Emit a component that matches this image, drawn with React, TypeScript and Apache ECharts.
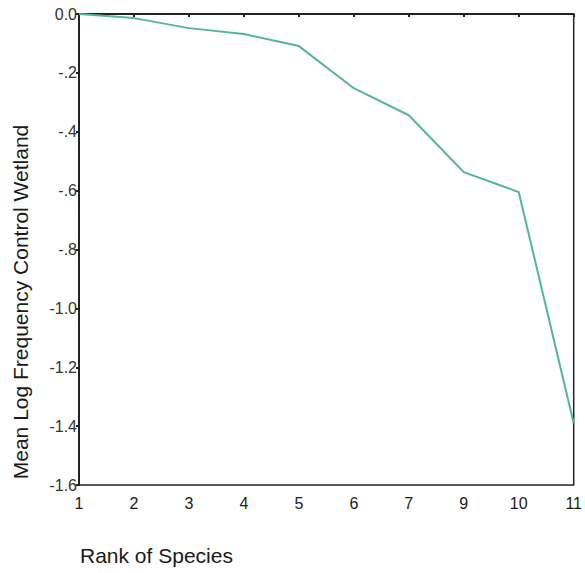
import React, { useEffect, useRef } from "react";
import * as echarts from "echarts";

const ranks = ["1", "2", "3", "4", "5", "6", "7", "9", "10", "11"];
const meanLogFreq = [0.0, -0.014, -0.048, -0.068, -0.109, -0.252, -0.344, -0.537, -0.605, -1.39];
const yTitle = "Mean Log Frequency Control Wetland";
const xTitle = "Rank of Species";

const FONT = "Arial, Liberation Sans, sans-serif";

export default function App() {
  const ref = useRef<HTMLDivElement>(null);
  useEffect(() => {
    if (!ref.current) return;
    const chart = echarts.init(ref.current, null, { renderer: "svg" });
    chart.setOption({
      animation: false,
      backgroundColor: "#ffffff",
      grid: {
        left: 79,
        right: 10,
        top: 14,
        bottom: 88,
        show: true,
        borderColor: "#222",
        borderWidth: 1.5,
        backgroundColor: "transparent",
      },
      xAxis: {
        type: "category",
        data: ranks,
        boundaryGap: false,
        axisLine: { show: true, lineStyle: { color: "#222", width: 2 } },
        axisTick: { show: true, length: 3, alignWithLabel: true, lineStyle: { color: "#222", width: 2 } },
        axisLabel: { color: "#1a1a1a", fontSize: 16, fontFamily: FONT, margin: 10 },
        splitLine: { show: false },
      },
      yAxis: {
        type: "value",
        min: -1.6,
        max: 0,
        interval: 0.2,
        axisLine: { show: true, lineStyle: { color: "#222", width: 2 } },
        axisTick: { show: true, length: 3, lineStyle: { color: "#222", width: 2 } },
        axisLabel: {
          color: "#333",
          fontSize: 16,
          fontFamily: FONT,
          margin: 2,
          formatter: (v: number) => {
            if (Math.abs(v) < 1e-9) return "0.0";
            return v.toFixed(1).replace(/^-0\./, "-.");
          },
        },
        splitLine: { show: false },
      },
      graphic: [
        {
          type: "text",
          x: 20,
          y: 302,
          rotation: Math.PI / 2,
          style: {
            text: yTitle,
            fontSize: 21,
            fontFamily: FONT,
            fill: "#1a1a1a",
            align: "center",
            verticalAlign: "middle",
          },
        },
        {
          type: "text",
          x: 80,
          y: 555,
          style: {
            text: xTitle,
            fontSize: 21,
            fontFamily: FONT,
            fill: "#1a1a1a",
            align: "left",
            verticalAlign: "middle",
          },
        },
      ],
      series: [
        {
          type: "line",
          data: meanLogFreq,
          showSymbol: false,
          symbol: "none",
          lineStyle: { color: "#55b597", width: 2 },
        },
      ],
    });
    return () => chart.dispose();
  }, []);
  return <div ref={ref} style={{ width: 585, height: 573, position: "absolute", left: 0, top: 0 }} />;
}
